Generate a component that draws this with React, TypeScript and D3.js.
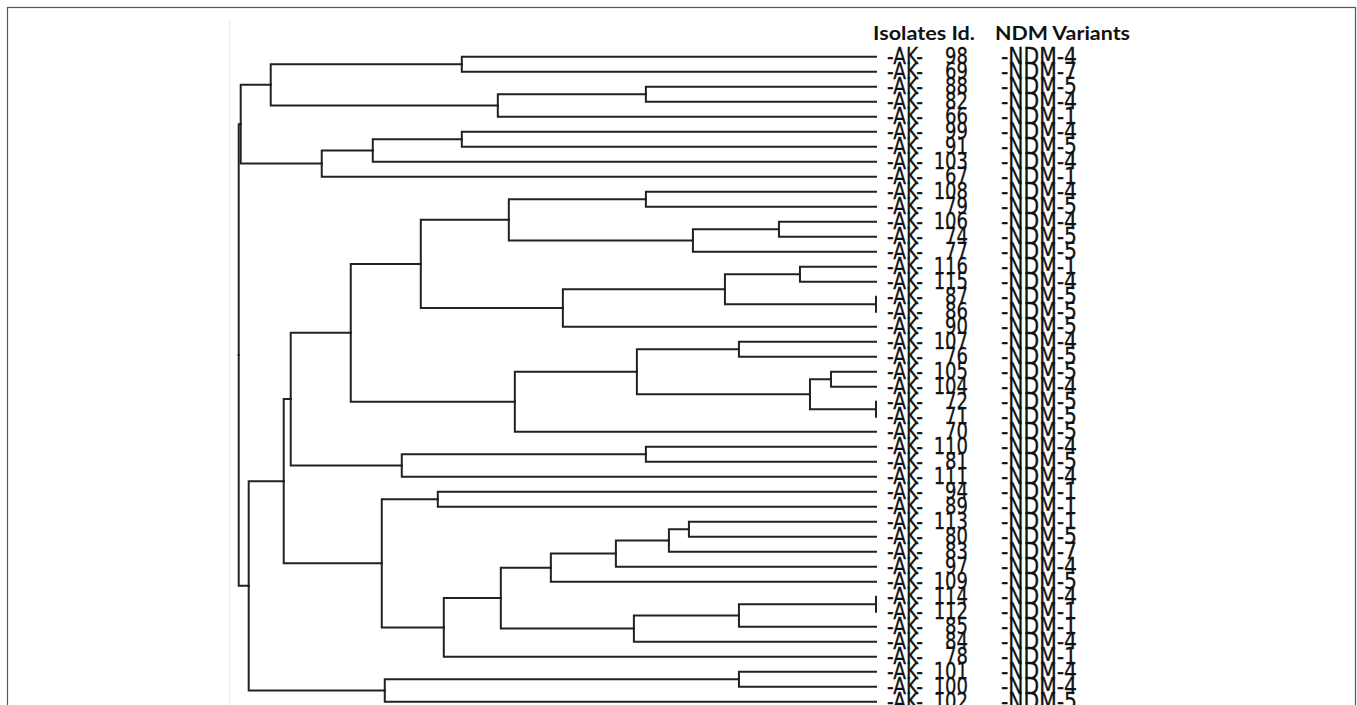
import React, { useEffect, useRef } from 'react';
import * as d3 from 'd3';

// leaf order top -> bottom
const isolates = ['98', '69', '88', '82', '66', '99', '91', '103', '67', '108', '79', '106', '74', '77', '116',
    '115', '87', '86', '90', '107', '76', '105', '104', '72', '71', '70', '110', '81', '111', '94', '89',
    '113', '80', '83', '97', '109', '114', '112', '85', '84', '78', '101', '100', '102'];
const variants = ['4', '7', '5', '4', '1', '4', '5', '4', '1', '4', '5', '4', '5', '5', '1', '4', '5', '5', '5',
    '4', '5', '5', '4', '5', '5', '5', '4', '5', '4', '1', '1', '1', '5', '7', '4', '5', '4', '1', '1', '4',
    '1', '4', '4', '5'];
const headers = ['Isolates Id.', 'NDM Variants'];

// linkage rows [left, right, distance]; ids < 44 are leaves, row k becomes id 44 + k
const merges: [number, number, number][] = [
    [16, 17, 0], [23, 24, 0], [36, 37, 0], [21, 22, 4.5], [47, 45, 6.6], [14, 15, 7.6], [11, 12, 9.7],
    [19, 20, 13.7], [46, 38, 13.7], [41, 42, 13.7], [49, 44, 15.1], [50, 13, 18.3], [31, 32, 18.7],
    [56, 33, 20.7], [9, 10, 23.0], [2, 3, 23.0], [26, 27, 23.0], [51, 48, 23.9], [52, 39, 24.2],
    [57, 34, 26.0], [54, 18, 31.3], [63, 35, 32.5], [61, 25, 36.1], [58, 55, 36.7], [65, 62, 37.5],
    [59, 4, 37.8], [0, 1, 41.4], [5, 6, 41.4], [68, 40, 43.2], [29, 30, 43.8], [67, 64, 45.5],
    [60, 28, 47.4], [73, 72, 49.4], [53, 43, 49.1], [71, 7, 50.3], [74, 66, 52.5], [78, 8, 55.4],
    [79, 75, 58.5], [81, 76, 59.2], [70, 69, 60.5], [82, 77, 62.7], [83, 80, 63.5], [85, 84, 63.7]
];

const W = 1357, H = 705;

function buildTree() {
    const nodes: any[] = isolates.map((id, i) => ({ id, index: i, dist: 0 }));
    merges.forEach(([a, b, h]) => nodes.push({ children: [nodes[a], nodes[b]], dist: h }));
    return d3.hierarchy(nodes[nodes.length - 1]);
}

function drawChart(svgEl: SVGSVGElement) {
    const svg = d3.select(svgEl);
    svg.selectAll('*').remove();

    // figure frame
    svg.append('rect')
        .attr('x', 7.5).attr('y', 7.5).attr('width', 1348).attr('height', 730)
        .attr('fill', 'none').attr('stroke', '#555').attr('stroke-width', 1.2);
    svg.append('line')
        .attr('x1', 229.5).attr('x2', 229.5).attr('y1', 20).attr('y2', H)
        .attr('stroke', '#ececec');

    const root: any = buildTree();
    const maxDist = root.data.dist;
    const x = d3.scaleLinear().domain([0, maxDist]).range([876, 238.7]);
    const y = d3.scaleLinear().domain([0, isolates.length - 1]).range([56.7, 701.7]);

    root.eachAfter((d: any) => {
        d.py = d.children ? d3.mean(d.children, (c: any) => c.py) : y(d.data.index);
        d.px = x(d.data.dist);
    });

    svg.append('g')
        .selectAll('path')
        .data(root.links())
        .enter()
        .append('path')
        .attr('d', (l: any) => `M${l.source.px},${l.source.py}V${l.target.py}H${l.target.px}`)
        .attr('fill', 'none')
        .attr('stroke', '#222')
        .attr('stroke-width', 2)
        .attr('stroke-linecap', 'square');

    // headers
    const head = svg.append('g')
        .style('font-family', 'Lato, "Open Sans", sans-serif')
        .style('font-weight', 700)
        .style('font-size', '18px')
        .attr('fill', '#111');
    head.append('text').attr('x', 873).attr('y', 40).attr('textLength', 102)
        .attr('lengthAdjust', 'spacingAndGlyphs').text(headers[0]);
    head.append('text').attr('x', 995).attr('y', 40).attr('textLength', 135)
        .attr('lengthAdjust', 'spacingAndGlyphs').text(headers[1]);

    // leaf labels (tall, overlapping glyphs as in the source figure)
    const rows = svg.append('g')
        .style('font-family', '"DejaVu Sans", sans-serif')
        .style('font-size', '18px')
        .attr('fill', '#111')
        .attr('stroke', '#111')
        .attr('stroke-width', 0.25)
        .selectAll('g')
        .data(isolates)
        .enter()
        .append('g');

    rows.append('text')
        .attr('transform', (d, i) => `translate(887,${y(i) + 7}) scale(1,1.3)`)
        .attr('textLength', 36)
        .attr('lengthAdjust', 'spacingAndGlyphs')
        .text('-AK-');
    rows.append('text')
        .attr('transform', (d, i) => `translate(968,${y(i) + 7}) scale(1,1.3)`)
        .attr('text-anchor', 'end')
        .text((d) => d);
    rows.append('text')
        .attr('transform', (d, i) => `translate(1001,${y(i) + 7}) scale(1,1.3)`)
        .attr('textLength', 76)
        .attr('lengthAdjust', 'spacingAndGlyphs')
        .text((d, i) => `-NDM-${variants[i]}`);
}

export default function App() {
    const ref = useRef<SVGSVGElement>(null);
    useEffect(() => {
        if (ref.current) drawChart(ref.current);
    }, []);
    return (
        <svg ref={ref} width={W} height={H}
            style={{ position: 'absolute', left: 0, top: 0, background: '#fff' }} />
    );
}
